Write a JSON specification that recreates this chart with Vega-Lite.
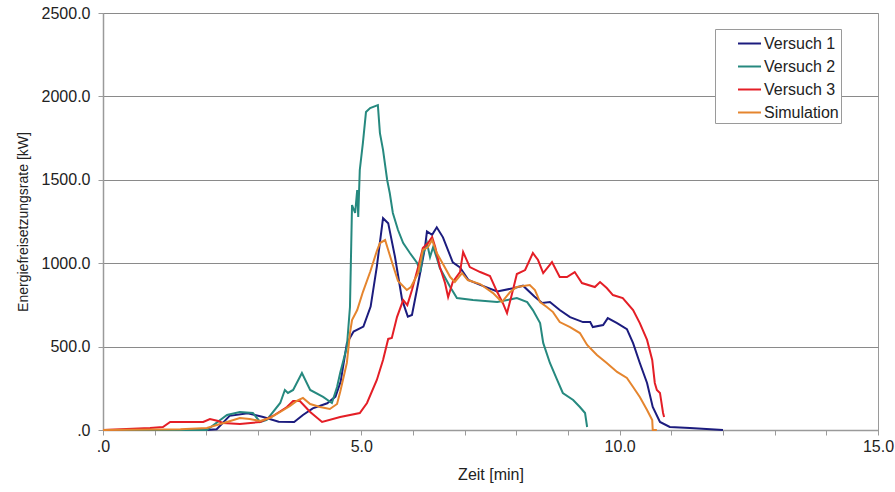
{
  "$schema": "https://vega.github.io/schema/vega-lite/v6.json",
  "width": 775,
  "height": 417,
  "autosize": {"type": "none"},
  "padding": {"left": 103, "top": 13, "right": 17, "bottom": 62},
  "background": "white",
  "config": {
    "font": "Liberation Sans",
    "view": {"stroke": "#9a9a9a", "strokeWidth": 1},
    "axis": {"labelFont": "Liberation Sans", "titleFont": "Liberation Sans", "labelColor": "#222", "titleColor": "#222", "labelFontSize": 16, "titleFontSize": 16, "titleFontWeight": "normal", "domainColor": "#9a9a9a", "tickColor": "#9a9a9a", "gridColor": "#8a8a8a", "domainWidth": 1.5}
  },
  "data": {"values": [
    {"s":"Versuch 1","t":0,"v":0},{"s":"Versuch 1","t":2.0,"v":0},{"s":"Versuch 1","t":2.2,"v":5},{"s":"Versuch 1","t":2.45,"v":85},{"s":"Versuch 1","t":2.8,"v":100},{"s":"Versuch 1","t":3.1,"v":78},{"s":"Versuch 1","t":3.4,"v":50},{"s":"Versuch 1","t":3.7,"v":48},{"s":"Versuch 1","t":3.87,"v":90},{"s":"Versuch 1","t":4.06,"v":130},{"s":"Versuch 1","t":4.34,"v":160},{"s":"Versuch 1","t":4.5,"v":200},{"s":"Versuch 1","t":4.6,"v":290},{"s":"Versuch 1","t":4.72,"v":520},{"s":"Versuch 1","t":4.85,"v":590},{"s":"Versuch 1","t":5.04,"v":620},{"s":"Versuch 1","t":5.18,"v":740},{"s":"Versuch 1","t":5.3,"v":980},{"s":"Versuch 1","t":5.42,"v":1270},{"s":"Versuch 1","t":5.52,"v":1240},{"s":"Versuch 1","t":5.65,"v":1040},{"s":"Versuch 1","t":5.79,"v":780},{"s":"Versuch 1","t":5.9,"v":680},{"s":"Versuch 1","t":5.98,"v":690},{"s":"Versuch 1","t":6.1,"v":880},{"s":"Versuch 1","t":6.23,"v":1090},{"s":"Versuch 1","t":6.27,"v":1190},{"s":"Versuch 1","t":6.37,"v":1170},{"s":"Versuch 1","t":6.46,"v":1215},{"s":"Versuch 1","t":6.58,"v":1155},{"s":"Versuch 1","t":6.77,"v":1005},{"s":"Versuch 1","t":6.91,"v":975},{"s":"Versuch 1","t":7.07,"v":900},{"s":"Versuch 1","t":7.3,"v":870},{"s":"Versuch 1","t":7.63,"v":830},{"s":"Versuch 1","t":7.94,"v":850},{"s":"Versuch 1","t":8.13,"v":865},{"s":"Versuch 1","t":8.35,"v":800},{"s":"Versuch 1","t":8.5,"v":761},{"s":"Versuch 1","t":8.65,"v":767},{"s":"Versuch 1","t":8.84,"v":719},{"s":"Versuch 1","t":9.04,"v":677},{"s":"Versuch 1","t":9.29,"v":647},{"s":"Versuch 1","t":9.43,"v":647},{"s":"Versuch 1","t":9.48,"v":617},{"s":"Versuch 1","t":9.68,"v":629},{"s":"Versuch 1","t":9.77,"v":671},{"s":"Versuch 1","t":9.95,"v":641},{"s":"Versuch 1","t":10.14,"v":605},{"s":"Versuch 1","t":10.26,"v":521},{"s":"Versuch 1","t":10.39,"v":402},{"s":"Versuch 1","t":10.53,"v":282},{"s":"Versuch 1","t":10.64,"v":138},{"s":"Versuch 1","t":10.78,"v":48},{"s":"Versuch 1","t":10.97,"v":18},{"s":"Versuch 1","t":11.36,"v":12},{"s":"Versuch 1","t":12.0,"v":0},
    {"s":"Versuch 2","t":0,"v":0},{"s":"Versuch 2","t":2.01,"v":0},{"s":"Versuch 2","t":2.4,"v":90},{"s":"Versuch 2","t":2.65,"v":108},{"s":"Versuch 2","t":2.9,"v":102},{"s":"Versuch 2","t":3.04,"v":48},{"s":"Versuch 2","t":3.17,"v":60},{"s":"Versuch 2","t":3.43,"v":162},{"s":"Versuch 2","t":3.52,"v":240},{"s":"Versuch 2","t":3.58,"v":222},{"s":"Versuch 2","t":3.68,"v":240},{"s":"Versuch 2","t":3.85,"v":342},{"s":"Versuch 2","t":4.01,"v":240},{"s":"Versuch 2","t":4.26,"v":198},{"s":"Versuch 2","t":4.43,"v":162},{"s":"Versuch 2","t":4.53,"v":258},{"s":"Versuch 2","t":4.59,"v":342},{"s":"Versuch 2","t":4.72,"v":498},{"s":"Versuch 2","t":4.78,"v":737},{"s":"Versuch 2","t":4.82,"v":1349},{"s":"Versuch 2","t":4.88,"v":1301},{"s":"Versuch 2","t":4.92,"v":1439},{"s":"Versuch 2","t":4.94,"v":1277},{"s":"Versuch 2","t":4.97,"v":1559},{"s":"Versuch 2","t":5.03,"v":1720},{"s":"Versuch 2","t":5.09,"v":1906},{"s":"Versuch 2","t":5.17,"v":1930},{"s":"Versuch 2","t":5.32,"v":1948},{"s":"Versuch 2","t":5.36,"v":1780},{"s":"Versuch 2","t":5.42,"v":1679},{"s":"Versuch 2","t":5.5,"v":1499},{"s":"Versuch 2","t":5.55,"v":1421},{"s":"Versuch 2","t":5.61,"v":1301},{"s":"Versuch 2","t":5.71,"v":1199},{"s":"Versuch 2","t":5.81,"v":1121},{"s":"Versuch 2","t":5.94,"v":1061},{"s":"Versuch 2","t":6.08,"v":1001},{"s":"Versuch 2","t":6.14,"v":947},{"s":"Versuch 2","t":6.19,"v":1049},{"s":"Versuch 2","t":6.27,"v":1121},{"s":"Versuch 2","t":6.33,"v":1037},{"s":"Versuch 2","t":6.39,"v":1097},{"s":"Versuch 2","t":6.46,"v":1031},{"s":"Versuch 2","t":6.52,"v":971},{"s":"Versuch 2","t":6.72,"v":857},{"s":"Versuch 2","t":6.85,"v":791},{"s":"Versuch 2","t":7.16,"v":779},{"s":"Versuch 2","t":7.63,"v":767},{"s":"Versuch 2","t":8.01,"v":791},{"s":"Versuch 2","t":8.21,"v":767},{"s":"Versuch 2","t":8.32,"v":719},{"s":"Versuch 2","t":8.46,"v":641},{"s":"Versuch 2","t":8.52,"v":522},{"s":"Versuch 2","t":8.65,"v":402},{"s":"Versuch 2","t":8.79,"v":300},{"s":"Versuch 2","t":8.9,"v":222},{"s":"Versuch 2","t":9.1,"v":180},{"s":"Versuch 2","t":9.23,"v":138},{"s":"Versuch 2","t":9.33,"v":102},{"s":"Versuch 2","t":9.37,"v":18},
    {"s":"Versuch 3","t":0,"v":0},{"s":"Versuch 3","t":0.91,"v":12},{"s":"Versuch 3","t":1.16,"v":18},{"s":"Versuch 3","t":1.3,"v":48},{"s":"Versuch 3","t":1.94,"v":48},{"s":"Versuch 3","t":2.07,"v":66},{"s":"Versuch 3","t":2.23,"v":54},{"s":"Versuch 3","t":2.32,"v":42},{"s":"Versuch 3","t":2.65,"v":36},{"s":"Versuch 3","t":3.04,"v":48},{"s":"Versuch 3","t":3.29,"v":84},{"s":"Versuch 3","t":3.56,"v":138},{"s":"Versuch 3","t":3.68,"v":174},{"s":"Versuch 3","t":3.81,"v":174},{"s":"Versuch 3","t":4.01,"v":108},{"s":"Versuch 3","t":4.24,"v":48},{"s":"Versuch 3","t":4.59,"v":78},{"s":"Versuch 3","t":4.97,"v":102},{"s":"Versuch 3","t":5.11,"v":162},{"s":"Versuch 3","t":5.3,"v":300},{"s":"Versuch 3","t":5.42,"v":420},{"s":"Versuch 3","t":5.52,"v":546},{"s":"Versuch 3","t":5.59,"v":552},{"s":"Versuch 3","t":5.69,"v":677},{"s":"Versuch 3","t":5.81,"v":779},{"s":"Versuch 3","t":5.89,"v":749},{"s":"Versuch 3","t":5.98,"v":839},{"s":"Versuch 3","t":6.1,"v":977},{"s":"Versuch 3","t":6.19,"v":1091},{"s":"Versuch 3","t":6.29,"v":1121},{"s":"Versuch 3","t":6.37,"v":1157},{"s":"Versuch 3","t":6.43,"v":1097},{"s":"Versuch 3","t":6.52,"v":977},{"s":"Versuch 3","t":6.62,"v":881},{"s":"Versuch 3","t":6.68,"v":797},{"s":"Versuch 3","t":6.77,"v":887},{"s":"Versuch 3","t":6.91,"v":947},{"s":"Versuch 3","t":6.97,"v":1067},{"s":"Versuch 3","t":7.1,"v":977},{"s":"Versuch 3","t":7.3,"v":947},{"s":"Versuch 3","t":7.49,"v":923},{"s":"Versuch 3","t":7.63,"v":827},{"s":"Versuch 3","t":7.74,"v":761},{"s":"Versuch 3","t":7.82,"v":701},{"s":"Versuch 3","t":7.92,"v":821},{"s":"Versuch 3","t":8.01,"v":935},{"s":"Versuch 3","t":8.17,"v":959},{"s":"Versuch 3","t":8.32,"v":1061},{"s":"Versuch 3","t":8.42,"v":1019},{"s":"Versuch 3","t":8.52,"v":941},{"s":"Versuch 3","t":8.69,"v":1007},{"s":"Versuch 3","t":8.84,"v":917},{"s":"Versuch 3","t":8.98,"v":917},{"s":"Versuch 3","t":9.13,"v":947},{"s":"Versuch 3","t":9.27,"v":881},{"s":"Versuch 3","t":9.52,"v":857},{"s":"Versuch 3","t":9.62,"v":887},{"s":"Versuch 3","t":9.75,"v":851},{"s":"Versuch 3","t":9.87,"v":809},{"s":"Versuch 3","t":10.06,"v":791},{"s":"Versuch 3","t":10.26,"v":719},{"s":"Versuch 3","t":10.39,"v":641},{"s":"Versuch 3","t":10.53,"v":540},{"s":"Versuch 3","t":10.63,"v":420},{"s":"Versuch 3","t":10.68,"v":282},{"s":"Versuch 3","t":10.72,"v":240},{"s":"Versuch 3","t":10.78,"v":222},{"s":"Versuch 3","t":10.84,"v":102},{"s":"Versuch 3","t":10.86,"v":78},
    {"s":"Simulation","t":0,"v":0},{"s":"Simulation","t":1.5,"v":5},{"s":"Simulation","t":2.01,"v":12},{"s":"Simulation","t":2.4,"v":48},{"s":"Simulation","t":2.65,"v":72},{"s":"Simulation","t":2.84,"v":66},{"s":"Simulation","t":3.04,"v":54},{"s":"Simulation","t":3.23,"v":72},{"s":"Simulation","t":3.43,"v":108},{"s":"Simulation","t":3.62,"v":144},{"s":"Simulation","t":3.75,"v":174},{"s":"Simulation","t":3.87,"v":192},{"s":"Simulation","t":4.01,"v":156},{"s":"Simulation","t":4.2,"v":138},{"s":"Simulation","t":4.39,"v":126},{"s":"Simulation","t":4.53,"v":156},{"s":"Simulation","t":4.59,"v":228},{"s":"Simulation","t":4.72,"v":402},{"s":"Simulation","t":4.78,"v":581},{"s":"Simulation","t":4.82,"v":659},{"s":"Simulation","t":4.92,"v":719},{"s":"Simulation","t":5.03,"v":827},{"s":"Simulation","t":5.17,"v":947},{"s":"Simulation","t":5.3,"v":1073},{"s":"Simulation","t":5.36,"v":1121},{"s":"Simulation","t":5.46,"v":1139},{"s":"Simulation","t":5.52,"v":1079},{"s":"Simulation","t":5.61,"v":989},{"s":"Simulation","t":5.71,"v":893},{"s":"Simulation","t":5.88,"v":839},{"s":"Simulation","t":5.96,"v":857},{"s":"Simulation","t":6.1,"v":941},{"s":"Simulation","t":6.19,"v":1079},{"s":"Simulation","t":6.29,"v":1097},{"s":"Simulation","t":6.37,"v":1139},{"s":"Simulation","t":6.46,"v":1061},{"s":"Simulation","t":6.58,"v":995},{"s":"Simulation","t":6.72,"v":917},{"s":"Simulation","t":6.81,"v":887},{"s":"Simulation","t":6.95,"v":941},{"s":"Simulation","t":7.06,"v":899},{"s":"Simulation","t":7.3,"v":875},{"s":"Simulation","t":7.55,"v":821},{"s":"Simulation","t":7.72,"v":767},{"s":"Simulation","t":7.88,"v":827},{"s":"Simulation","t":8.01,"v":857},{"s":"Simulation","t":8.26,"v":869},{"s":"Simulation","t":8.36,"v":839},{"s":"Simulation","t":8.46,"v":767},{"s":"Simulation","t":8.59,"v":737},{"s":"Simulation","t":8.71,"v":707},{"s":"Simulation","t":8.84,"v":647},{"s":"Simulation","t":9.04,"v":617},{"s":"Simulation","t":9.23,"v":581},{"s":"Simulation","t":9.37,"v":510},{"s":"Simulation","t":9.56,"v":450},{"s":"Simulation","t":9.75,"v":402},{"s":"Simulation","t":9.95,"v":348},{"s":"Simulation","t":10.14,"v":312},{"s":"Simulation","t":10.26,"v":258},{"s":"Simulation","t":10.39,"v":198},{"s":"Simulation","t":10.53,"v":120},{"s":"Simulation","t":10.63,"v":60},{"s":"Simulation","t":10.64,"v":0},{"s":"Simulation","t":10.72,"v":0}
  ]},
  "mark": {"type": "line", "strokeWidth": 2, "interpolate": "linear"},
  "encoding": {
    "x": {"field": "t", "type": "quantitative",
      "scale": {"domain": [0, 15], "nice": false, "zero": true},
      "axis": {"title": "Zeit [min]", "values": [0,1,2,3,4,5,6,7,8,9,10,11,12,13,14,15], "grid": false, "tickSize": 5, "labelPadding": 3, "titlePadding": 12, "labelFlush": false,
        "labelExpr": "datum.value % 5 == 0 ? (datum.value == 0 ? '.0' : format(datum.value, '.1f')) : ''"}},
    "y": {"field": "v", "type": "quantitative",
      "scale": {"domain": [0, 2500], "nice": false},
      "axis": {"title": "Energiefreisetzungsrate [kW]", "titleFontSize": 14, "values": [0,500,1000,1500,2000,2500], "grid": true, "tickSize": 5, "labelPadding": 8, "titlePadding": 11, "labelFlush": false,
        "labelExpr": "datum.value == 0 ? '.0' : format(datum.value, '.1f')"}},
    "color": {"field": "s", "type": "nominal",
      "scale": {"domain": ["Versuch 1", "Versuch 2", "Versuch 3", "Simulation"], "range": ["#1c1c7e", "#26897f", "#e41e26", "#e5852e"]},
      "legend": {"title": null, "orient": "none", "legendX": 612, "legendY": 16, "symbolType": "stroke", "symbolSize": 529, "symbolStrokeWidth": 2, "symbolOffset": 20, "labelFontSize": 16, "labelFont": "Liberation Sans", "labelColor": "#222", "rowPadding": 2, "padding": 2, "strokeColor": "#9a9a9a", "fillColor": "white", "labelOffset": 2}},
    "order": {"field": "t", "type": "quantitative"}
  }
}
